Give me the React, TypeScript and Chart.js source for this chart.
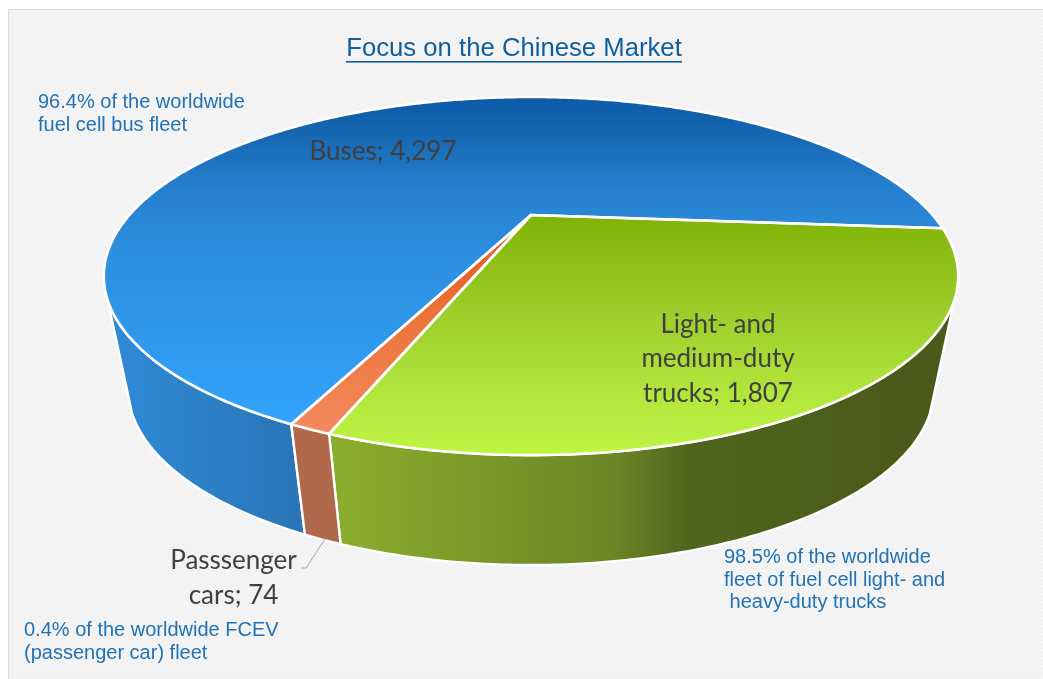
import React, { useEffect, useRef } from "react";
import { Chart, registerables } from "chart.js";

Chart.register(...registerables);

// Fleet counts by vehicle class
const categories = ["Buses", "Light- and medium-duty trucks", "Passsenger cars"];
const fleetCounts = [4297, 1807, 74];
const firstSliceAngle = 204.3;

// How each slice label wraps; the count is appended to the last line
const sliceLabelLines = [["Buses"], ["Light- and", "medium-duty", "trucks"], ["Passsenger", "cars"]];

const chartTitle = "Focus on the Chinese Market";
const busNote = ["96.4% of the worldwide", "fuel cell bus fleet"];
const truckNote = ["98.5% of the worldwide", "fleet of fuel cell light- and", " heavy-duty trucks"];
const carNote = ["0.4% of the worldwide FCEV", "(passenger car) fleet"];

// Perspective applied to the unit disc of the pie
const view = { cx: 531, apexY: 215, spreadX: 401.6, spreadY: 85, tilt: -0.3408 };
// The underside is the top rim scaled towards a vanishing point below
const base = { scaleX: 0.943, scaleY: 0.985, shiftY: 116.8 };
// Part of the rim whose wall faces the viewer, clockwise from twelve o'clock
const wallRange = [117, 243];

const topStops = [
  [[0, "#0c5aa8"], [0.09, "#1565b0"], [0.26, "#2680cf"], [0.45, "#2d90e0"], [0.65, "#2f97ea"], [0.9, "#33a3fb"], [1, "#33a3fb"]],
  [[0, "#7ab000"], [0.33, "#80b307"], [0.6, "#9ccd2a"], [0.85, "#b4e83e"], [1, "#bff545"]],
  [[0, "#e0551c"], [0.33, "#e0551c"], [0.6, "#ec7238"], [1, "#f39066"]],
];
const wallStops = [
  [[0, "#2f8ad6"], [1, "#2a74b6"]],
  [[0, "#8aae2c"], [0.5, "#6a8526"], [0.62, "#50661e"], [1, "#4b5a1a"]],
  [[0, "#b0694a"], [1, "#b0694a"]],
];
const wallSpans = [
  [120, 305],
  [335, 900],
  [300, 345],
];

const toDisc = (a: number) => ({ u: Math.cos(a), v: Math.sin(a) });

function rimPoint(a: number) {
  const { u, v } = toDisc(a);
  const w = 1 + view.tilt * v;
  return { x: view.cx + (view.spreadX * u) / w, y: (view.spreadY * v + view.apexY) / w };
}

function basePoint(a: number) {
  const p = rimPoint(a);
  return { x: view.cx + (p.x - view.cx) * base.scaleX, y: p.y * base.scaleY + base.shiftY };
}

function traceArc(ctx: CanvasRenderingContext2D, from: number, to: number, at: (a: number) => { x: number; y: number }, join: boolean) {
  const steps = Math.max(2, Math.ceil(Math.abs(to - from) / 0.01));
  for (let i = 0; i <= steps; i++) {
    const p = at(from + ((to - from) * i) / steps);
    if (i === 0 && !join) ctx.moveTo(p.x, p.y);
    else ctx.lineTo(p.x, p.y);
  }
}

function makeGradient(ctx: CanvasRenderingContext2D, x0: number, y0: number, x1: number, y1: number, stops: any[]) {
  const g = ctx.createLinearGradient(x0, y0, x1, y1);
  stops.forEach(([o, c]) => g.addColorStop(o, c));
  return g;
}

function panelPattern(ctx: CanvasRenderingContext2D) {
  const tile = document.createElement("canvas");
  tile.width = 4;
  tile.height = 4;
  const t = tile.getContext("2d") as CanvasRenderingContext2D;
  t.fillStyle = "#efeff0";
  t.fillRect(0, 0, 4, 4);
  t.strokeStyle = "#f7f7f7";
  t.lineWidth = 1.4;
  t.beginPath();
  t.moveTo(-1, -1);
  t.lineTo(5, 5);
  t.moveTo(-1, 3);
  t.lineTo(1, 5);
  t.moveTo(3, -1);
  t.lineTo(5, 1);
  t.stroke();
  return ctx.createPattern(tile, "repeat") as CanvasPattern;
}

function drawBlock(ctx: CanvasRenderingContext2D, lines: string[], x: number, y: number, step: number) {
  lines.forEach((line, i) => ctx.fillText(line, x, y + i * step));
}

const tiltedPie = {
  id: "tiltedPie",
  beforeDraw(chart: any) {
    const { ctx, width, height } = chart;
    ctx.save();
    ctx.fillStyle = "#ffffff";
    ctx.fillRect(0, 0, width, height);
    ctx.fillStyle = panelPattern(ctx);
    ctx.fillRect(8, 9, width - 8, height - 9);
    ctx.strokeStyle = "#dddddd";
    ctx.lineWidth = 1;
    ctx.beginPath();
    ctx.moveTo(8.5, height);
    ctx.lineTo(8.5, 9.5);
    ctx.lineTo(width, 9.5);
    ctx.stroke();
    ctx.restore();
  },
  beforeDatasetDraw(chart: any) {
    const { ctx } = chart;
    const arcs = chart.getDatasetMeta(0).data;
    const rad = Math.PI / 180;
    const wallFrom = (wallRange[0] - 90) * rad;
    const wallTo = (wallRange[1] - 90) * rad;
    const turn = Math.PI * 2;
    ctx.save();
    ctx.lineJoin = "round";

    // Side walls, limited to the part of the rim turned to the viewer
    arcs.forEach((arc: any, i: number) => {
      let a0 = arc.startAngle;
      let a1 = arc.endAngle;
      while (a0 > wallTo) {
        a0 -= turn;
        a1 -= turn;
      }
      const from = Math.max(a0, wallFrom);
      const to = Math.min(a1, wallTo);
      if (to <= from) return;
      ctx.beginPath();
      traceArc(ctx, from, to, rimPoint, false);
      traceArc(ctx, to, from, basePoint, true);
      ctx.closePath();
      ctx.fillStyle = makeGradient(ctx, wallSpans[i][0], 0, wallSpans[i][1], 0, wallStops[i]);
      ctx.fill();
      ctx.strokeStyle = "#ffffff";
      ctx.lineWidth = 2.4;
      ctx.stroke();
    });

    // Top face of each slice
    arcs.forEach((arc: any, i: number) => {
      ctx.beginPath();
      ctx.moveTo(view.cx, view.apexY);
      traceArc(ctx, arc.startAngle, arc.endAngle, rimPoint, true);
      ctx.closePath();
      ctx.fillStyle = makeGradient(ctx, 0, 97, 0, 455, topStops[i]);
      ctx.fill();
    });
    arcs.forEach((arc: any) => {
      ctx.beginPath();
      ctx.moveTo(view.cx, view.apexY);
      traceArc(ctx, arc.startAngle, arc.endAngle, rimPoint, true);
      ctx.closePath();
      ctx.strokeStyle = "#ffffff";
      ctx.lineWidth = 2.6;
      ctx.stroke();
    });
    ctx.restore();
    return false;
  },
  afterDraw(chart: any) {
    const { ctx } = chart;
    const withCount = sliceLabelLines.map((lines, i) =>
      lines.map((line, j) => (j === lines.length - 1 ? `${line}; ${fleetCounts[i].toLocaleString("en-US")}` : line)),
    );
    ctx.save();
    ctx.textBaseline = "alphabetic";

    ctx.fillStyle = "#0f5f9f";
    ctx.font = '25.7px "Liberation Sans"';
    ctx.textAlign = "center";
    ctx.fillText(chartTitle, 514, 56);
    ctx.fillRect(346, 61, 336, 1.6);

    ctx.fillStyle = "#404040";
    ctx.font = '26px Lato';
    drawBlock(ctx, withCount[0], 383, 159.5, 0);
    drawBlock(ctx, withCount[1], 718, 332.5, 34.5);
    drawBlock(ctx, withCount[2], 233.5, 569, 34.5);

    ctx.strokeStyle = "#a6a6a6";
    ctx.lineWidth = 1;
    ctx.beginPath();
    ctx.moveTo(325, 539);
    ctx.lineTo(306, 568);
    ctx.lineTo(301, 568);
    ctx.stroke();

    ctx.fillStyle = "#2272b6";
    ctx.font = '20px "Liberation Sans"';
    ctx.textAlign = "left";
    drawBlock(ctx, busNote, 38, 108, 23);
    drawBlock(ctx, truckNote, 724, 563, 22.6);
    drawBlock(ctx, carNote, 24, 636, 23);
    ctx.restore();
  },
};

export default function App() {
  const ref = useRef<HTMLCanvasElement>(null);
  useEffect(() => {
    const chart = new Chart(ref.current as HTMLCanvasElement, {
      type: "pie",
      data: {
        labels: categories,
        datasets: [{ data: fleetCounts, backgroundColor: ["#2c90e2", "#97ca24", "#ec7238"] }],
      },
      options: {
        animation: false,
        responsive: false,
        rotation: firstSliceAngle,
        plugins: { legend: { display: false }, tooltip: { enabled: false } },
      },
      plugins: [tiltedPie],
    } as any);
    return () => chart.destroy();
  }, []);
  return (
    <canvas
      ref={ref}
      width={1043}
      height={679}
      style={{ position: "absolute", left: 0, top: 0, width: 1043, height: 679, display: "block" }}
    />
  );
}
